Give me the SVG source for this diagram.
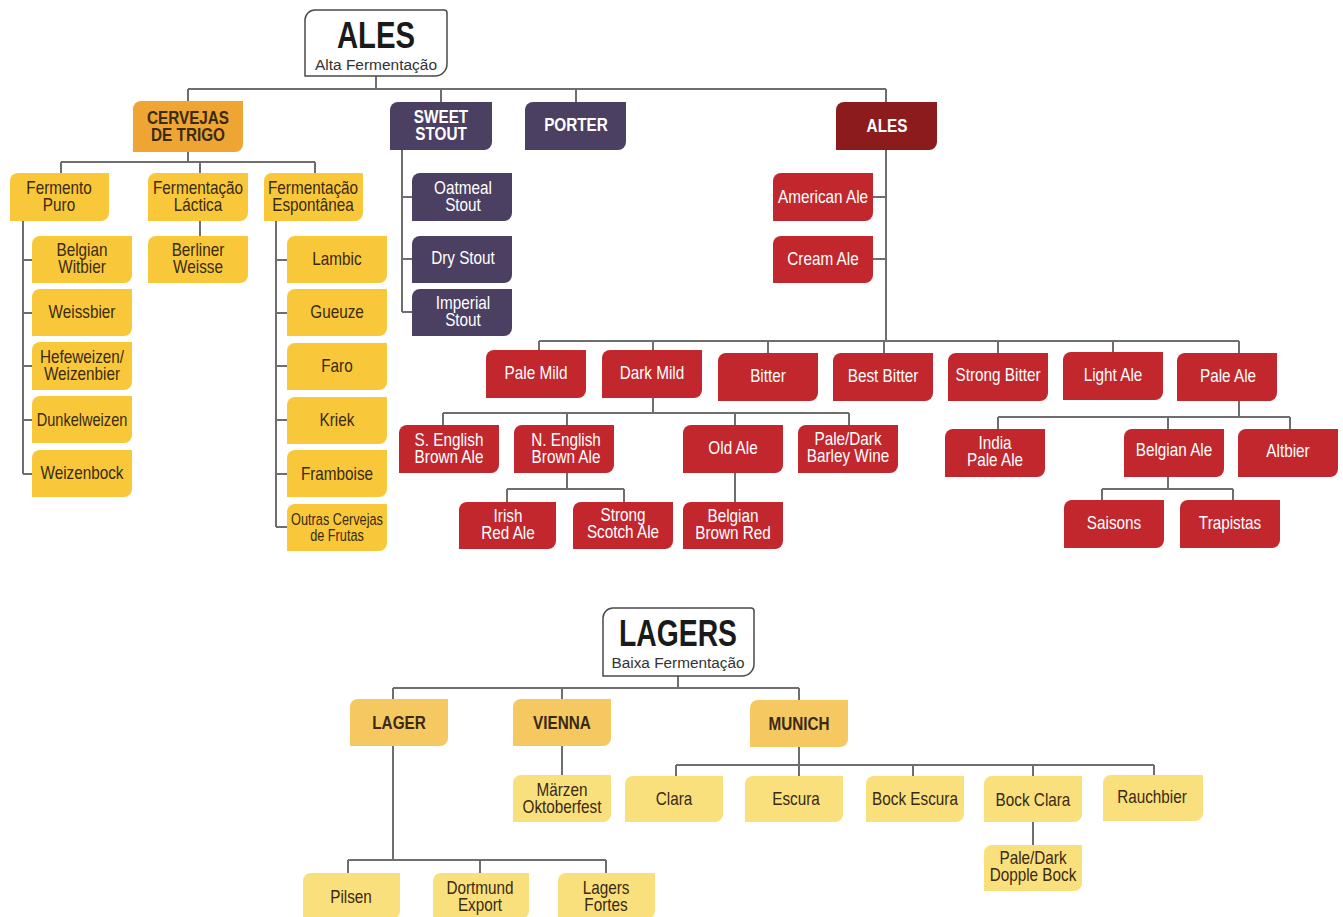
<svg xmlns="http://www.w3.org/2000/svg" width="1343" height="917" viewBox="0 0 1343 917">
<style>
.bg{fill:#fff}
.ln{stroke:#6e6e6e;stroke-width:2;fill:none}
.ttl{fill:#fff;stroke:#4a4a4a;stroke-width:1.5}
.y{fill:#F8C83A}.o{fill:#EFA534}.p{fill:#4B4062}.dr{fill:#8C1B1D}.r{fill:#C1272D}.lh{fill:#F6C862}.ll{fill:#F9E07C}
text{font-family:"Liberation Sans",Arial,sans-serif;text-anchor:middle}
.t{font-size:18px}
.b{font-size:18px;font-weight:bold}
.d{fill:#3a2a12}.w{fill:#fff}
.big{font-size:36px;font-weight:bold;fill:#1a1a1a}
.sub{font-size:15.5px;fill:#333}
.sm{font-size:16.5px}
</style>
<rect class="bg" x="0" y="0" width="1343" height="917"/>
<g id="connectors">
<path class="ln" d="M376,76V89M188,89H886M188,89V101M441,89V102M576,89V102M886,89V102"/>
<path class="ln" d="M188,152V162M61,162H315M61,162V173M200,162V173M315,162V173"/>
<path class="ln" d="M23,221V474M23,260H32M23,313H32M23,366H32M23,420H32M23,474H32"/>
<path class="ln" d="M200,221V236"/>
<path class="ln" d="M276,221V527M276,260H287M276,313H287M276,366H287M276,420H287M276,474H287M276,527H287"/>
<path class="ln" d="M402,150V312M402,197H412M402,259H412M402,312H412"/>
<path class="ln" d="M886,150V341M873,197H886M873,259H886"/>
<path class="ln" d="M539,341H1239M539,341V350M653,341V350M768,341V353M884,341V353M998,341V353M1113,341V352M1239,341V353"/>
<path class="ln" d="M653,398V413M443,413H849M443,413V425M567,413V425M735,413V425M849,413V425"/>
<path class="ln" d="M567,473V489M507,489H624M507,489V502M624,489V502M735,473V502"/>
<path class="ln" d="M1239,401V417M998,417H1290M998,417V429M1168,417V429M1290,417V429"/>
<path class="ln" d="M1168,477V489M1102,489H1233M1102,489V500M1233,489V500"/>
<path class="ln" d="M678,676V688M393,688H799M393,688V699M562,688V699M799,688V700"/>
<path class="ln" d="M562,746V775"/>
<path class="ln" d="M799,747V776M676,765H1154M676,765V776M913,765V776M1033,765V776M1154,765V775"/>
<path class="ln" d="M1033,822V845"/>
<path class="ln" d="M393,746V860M348,860H606M348,860V873M480,860V873M606,860V873"/>
</g>
<g id="ales-title"><path class="ttl" d="M315,10H444a3,3 0 0 1 3,3V64a12,12 0 0 1 -12,12H305V20a10,10 0 0 1 10,-10Z"/><text class="big" x="376" y="48" textLength="78" lengthAdjust="spacingAndGlyphs">ALES</text><text class="sub" x="376" y="70" textLength="122" lengthAdjust="spacingAndGlyphs">Alta Fermentação</text></g>
<g id="cervejas-de-trigo"><path class="o" d="M141,101H243V144a8,8 0 0 1 -8,8H133V109a8,8 0 0 1 8,-8Z"/><text class="b d" transform="matrix(.85 0 0 1 188 0)" y="124">CERVEJAS</text><text class="b d" transform="matrix(.85 0 0 1 188 0)" y="141">DE TRIGO</text></g>
<g id="sweet-stout"><path class="p" d="M398,102H492V142a8,8 0 0 1 -8,8H390V110a8,8 0 0 1 8,-8Z"/><text class="b w" transform="matrix(.85 0 0 1 441 0)" y="123">SWEET</text><text class="b w" transform="matrix(.85 0 0 1 441 0)" y="140">STOUT</text></g>
<g id="porter"><path class="p" d="M533,102H626V142a8,8 0 0 1 -8,8H525V110a8,8 0 0 1 8,-8Z"/><text class="b w" transform="matrix(.85 0 0 1 576 0)" y="131">PORTER</text></g>
<g id="ales-red"><path class="dr" d="M844,102H937V142a8,8 0 0 1 -8,8H836V110a8,8 0 0 1 8,-8Z"/><text class="b w" transform="matrix(.85 0 0 1 887 0)" y="132">ALES</text></g>
<g id="fermento-puro"><path class="y" d="M18,173H109V213a8,8 0 0 1 -8,8H10V181a8,8 0 0 1 8,-8Z"/><text class="t d" transform="matrix(.85 0 0 1 59 0)" y="194">Fermento</text><text class="t d" transform="matrix(.85 0 0 1 59 0)" y="211">Puro</text></g>
<g id="fermentacao-lactica"><path class="y" d="M156,173H248V213a8,8 0 0 1 -8,8H148V181a8,8 0 0 1 8,-8Z"/><text class="t d" transform="matrix(.85 0 0 1 198 0)" y="194">Fermentação</text><text class="t d" transform="matrix(.85 0 0 1 198 0)" y="211">Láctica</text></g>
<g id="fermentacao-espontanea"><path class="y" d="M272,173H363V213a8,8 0 0 1 -8,8H264V181a8,8 0 0 1 8,-8Z"/><text class="t d" transform="matrix(.85 0 0 1 313 0)" y="194">Fermentação</text><text class="t d" transform="matrix(.85 0 0 1 313 0)" y="211">Espontânea</text></g>
<g id="belgian-witbier"><path class="y" d="M40,236H132V275a8,8 0 0 1 -8,8H32V244a8,8 0 0 1 8,-8Z"/><text class="t d" transform="matrix(.85 0 0 1 82 0)" y="256">Belgian</text><text class="t d" transform="matrix(.85 0 0 1 82 0)" y="273">Witbier</text></g>
<g id="weissbier"><path class="y" d="M40,289H132V328a8,8 0 0 1 -8,8H32V297a8,8 0 0 1 8,-8Z"/><text class="t d" transform="matrix(.85 0 0 1 82 0)" y="318">Weissbier</text></g>
<g id="hefeweizen"><path class="y" d="M40,342H132V382a8,8 0 0 1 -8,8H32V350a8,8 0 0 1 8,-8Z"/><text class="t d" transform="matrix(.85 0 0 1 82 0)" y="363">Hefeweizen/</text><text class="t d" transform="matrix(.85 0 0 1 82 0)" y="380">Weizenbier</text></g>
<g id="dunkelweizen"><path class="y" d="M40,396H132V435a8,8 0 0 1 -8,8H32V404a8,8 0 0 1 8,-8Z"/><text class="t d" transform="matrix(.81 0 0 1 82 0)" y="426">Dunkelweizen</text></g>
<g id="weizenbock"><path class="y" d="M40,450H132V489a8,8 0 0 1 -8,8H32V458a8,8 0 0 1 8,-8Z"/><text class="t d" transform="matrix(.85 0 0 1 82 0)" y="479">Weizenbock</text></g>
<g id="berliner-weisse"><path class="y" d="M156,236H248V275a8,8 0 0 1 -8,8H148V244a8,8 0 0 1 8,-8Z"/><text class="t d" transform="matrix(.85 0 0 1 198 0)" y="256">Berliner</text><text class="t d" transform="matrix(.85 0 0 1 198 0)" y="273">Weisse</text></g>
<g id="lambic"><path class="y" d="M295,236H387V275a8,8 0 0 1 -8,8H287V244a8,8 0 0 1 8,-8Z"/><text class="t d" transform="matrix(.85 0 0 1 337 0)" y="265">Lambic</text></g>
<g id="gueuze"><path class="y" d="M295,289H387V328a8,8 0 0 1 -8,8H287V297a8,8 0 0 1 8,-8Z"/><text class="t d" transform="matrix(.85 0 0 1 337 0)" y="318">Gueuze</text></g>
<g id="faro"><path class="y" d="M295,343H387V382a8,8 0 0 1 -8,8H287V351a8,8 0 0 1 8,-8Z"/><text class="t d" transform="matrix(.85 0 0 1 337 0)" y="372">Faro</text></g>
<g id="kriek"><path class="y" d="M295,397H387V436a8,8 0 0 1 -8,8H287V405a8,8 0 0 1 8,-8Z"/><text class="t d" transform="matrix(.85 0 0 1 337 0)" y="426">Kriek</text></g>
<g id="framboise"><path class="y" d="M295,450H387V489a8,8 0 0 1 -8,8H287V458a8,8 0 0 1 8,-8Z"/><text class="t d" transform="matrix(.85 0 0 1 337 0)" y="480">Framboise</text></g>
<g id="outras-cervejas"><path class="y" d="M295,504H387V543a8,8 0 0 1 -8,8H287V512a8,8 0 0 1 8,-8Z"/><text class="sm d" transform="matrix(.77 0 0 1 337 0)" y="525">Outras Cervejas</text><text class="sm d" transform="matrix(.77 0 0 1 337 0)" y="541">de Frutas</text></g>
<g id="oatmeal-stout"><path class="p" d="M420,173H512V213a8,8 0 0 1 -8,8H412V181a8,8 0 0 1 8,-8Z"/><text class="t w" transform="matrix(.85 0 0 1 463 0)" y="194">Oatmeal</text><text class="t w" transform="matrix(.85 0 0 1 463 0)" y="211">Stout</text></g>
<g id="dry-stout"><path class="p" d="M420,236H512V275a8,8 0 0 1 -8,8H412V244a8,8 0 0 1 8,-8Z"/><text class="t w" transform="matrix(.85 0 0 1 463 0)" y="264">Dry Stout</text></g>
<g id="imperial-stout"><path class="p" d="M420,289H512V328a8,8 0 0 1 -8,8H412V297a8,8 0 0 1 8,-8Z"/><text class="t w" transform="matrix(.85 0 0 1 463 0)" y="309">Imperial</text><text class="t w" transform="matrix(.85 0 0 1 463 0)" y="326">Stout</text></g>
<g id="american-ale"><path class="r" d="M781,173H873V213a8,8 0 0 1 -8,8H773V181a8,8 0 0 1 8,-8Z"/><text class="t w" transform="matrix(.85 0 0 1 823 0)" y="203">American Ale</text></g>
<g id="cream-ale"><path class="r" d="M781,236H873V275a8,8 0 0 1 -8,8H773V244a8,8 0 0 1 8,-8Z"/><text class="t w" transform="matrix(.85 0 0 1 823 0)" y="265">Cream Ale</text></g>
<g id="pale-mild"><path class="r" d="M494,350H586V390a8,8 0 0 1 -8,8H486V358a8,8 0 0 1 8,-8Z"/><text class="t w" transform="matrix(.85 0 0 1 536 0)" y="379">Pale Mild</text></g>
<g id="dark-mild"><path class="r" d="M610,350H702V390a8,8 0 0 1 -8,8H602V358a8,8 0 0 1 8,-8Z"/><text class="t w" transform="matrix(.85 0 0 1 652 0)" y="379">Dark Mild</text></g>
<g id="bitter"><path class="r" d="M726,353H818V393a8,8 0 0 1 -8,8H718V361a8,8 0 0 1 8,-8Z"/><text class="t w" transform="matrix(.85 0 0 1 768 0)" y="382">Bitter</text></g>
<g id="best-bitter"><path class="r" d="M841,353H933V393a8,8 0 0 1 -8,8H833V361a8,8 0 0 1 8,-8Z"/><text class="t w" transform="matrix(.85 0 0 1 883 0)" y="382">Best Bitter</text></g>
<g id="strong-bitter"><path class="r" d="M956,353H1048V393a8,8 0 0 1 -8,8H948V361a8,8 0 0 1 8,-8Z"/><text class="t w" transform="matrix(.85 0 0 1 998 0)" y="381">Strong Bitter</text></g>
<g id="light-ale"><path class="r" d="M1071,352H1163V392a8,8 0 0 1 -8,8H1063V360a8,8 0 0 1 8,-8Z"/><text class="t w" transform="matrix(.85 0 0 1 1113 0)" y="381">Light Ale</text></g>
<g id="pale-ale"><path class="r" d="M1185,353H1277V393a8,8 0 0 1 -8,8H1177V361a8,8 0 0 1 8,-8Z"/><text class="t w" transform="matrix(.85 0 0 1 1228 0)" y="382">Pale Ale</text></g>
<g id="s-english-brown-ale"><path class="r" d="M407,425H499V465a8,8 0 0 1 -8,8H399V433a8,8 0 0 1 8,-8Z"/><text class="t w" transform="matrix(.85 0 0 1 449 0)" y="446">S. English</text><text class="t w" transform="matrix(.85 0 0 1 449 0)" y="463">Brown Ale</text></g>
<g id="n-english-brown-ale"><path class="r" d="M522,425H614V465a8,8 0 0 1 -8,8H514V433a8,8 0 0 1 8,-8Z"/><text class="t w" transform="matrix(.85 0 0 1 566 0)" y="446">N. English</text><text class="t w" transform="matrix(.85 0 0 1 566 0)" y="463">Brown Ale</text></g>
<g id="old-ale"><path class="r" d="M691,425H783V465a8,8 0 0 1 -8,8H683V433a8,8 0 0 1 8,-8Z"/><text class="t w" transform="matrix(.85 0 0 1 733 0)" y="454">Old Ale</text></g>
<g id="barley-wine"><path class="r" d="M806,425H898V465a8,8 0 0 1 -8,8H798V433a8,8 0 0 1 8,-8Z"/><text class="t w" transform="matrix(.85 0 0 1 848 0)" y="445">Pale/Dark</text><text class="t w" transform="matrix(.85 0 0 1 848 0)" y="462">Barley Wine</text></g>
<g id="irish-red-ale"><path class="r" d="M467,502H556V541a8,8 0 0 1 -8,8H459V510a8,8 0 0 1 8,-8Z"/><text class="t w" transform="matrix(.85 0 0 1 508 0)" y="522">Irish</text><text class="t w" transform="matrix(.85 0 0 1 508 0)" y="539">Red Ale</text></g>
<g id="strong-scotch-ale"><path class="r" d="M581,502H673V541a8,8 0 0 1 -8,8H573V510a8,8 0 0 1 8,-8Z"/><text class="t w" transform="matrix(.85 0 0 1 623 0)" y="521">Strong</text><text class="t w" transform="matrix(.85 0 0 1 623 0)" y="538">Scotch Ale</text></g>
<g id="belgian-brown-red"><path class="r" d="M691,502H783V541a8,8 0 0 1 -8,8H683V510a8,8 0 0 1 8,-8Z"/><text class="t w" transform="matrix(.85 0 0 1 733 0)" y="522">Belgian</text><text class="t w" transform="matrix(.85 0 0 1 733 0)" y="539">Brown Red</text></g>
<g id="india-pale-ale"><path class="r" d="M953,429H1045V469a8,8 0 0 1 -8,8H945V437a8,8 0 0 1 8,-8Z"/><text class="t w" transform="matrix(.85 0 0 1 995 0)" y="449">India</text><text class="t w" transform="matrix(.85 0 0 1 995 0)" y="466">Pale Ale</text></g>
<g id="belgian-ale"><path class="r" d="M1132,429H1224V469a8,8 0 0 1 -8,8H1124V437a8,8 0 0 1 8,-8Z"/><text class="t w" transform="matrix(.85 0 0 1 1174 0)" y="456">Belgian Ale</text></g>
<g id="altbier"><path class="r" d="M1246,429H1338V469a8,8 0 0 1 -8,8H1238V437a8,8 0 0 1 8,-8Z"/><text class="t w" transform="matrix(.85 0 0 1 1288 0)" y="457">Altbier</text></g>
<g id="saisons"><path class="r" d="M1072,500H1164V540a8,8 0 0 1 -8,8H1064V508a8,8 0 0 1 8,-8Z"/><text class="t w" transform="matrix(.85 0 0 1 1114 0)" y="529">Saisons</text></g>
<g id="trapistas"><path class="r" d="M1188,500H1280V540a8,8 0 0 1 -8,8H1180V508a8,8 0 0 1 8,-8Z"/><text class="t w" transform="matrix(.85 0 0 1 1230 0)" y="529">Trapistas</text></g>
<g id="lagers-title"><path class="ttl" d="M613,608H751a3,3 0 0 1 3,3V664a12,12 0 0 1 -12,12H603V618a10,10 0 0 1 10,-10Z"/><text class="big" x="678" y="646" textLength="118" lengthAdjust="spacingAndGlyphs">LAGERS</text><text class="sub" x="678" y="668" textLength="133" lengthAdjust="spacingAndGlyphs">Baixa Fermentação</text></g>
<g id="lager"><path class="lh" d="M358,699H448V738a8,8 0 0 1 -8,8H350V707a8,8 0 0 1 8,-8Z"/><text class="b d" transform="matrix(.85 0 0 1 399 0)" y="729">LAGER</text></g>
<g id="vienna"><path class="lh" d="M521,699H611V738a8,8 0 0 1 -8,8H513V707a8,8 0 0 1 8,-8Z"/><text class="b d" transform="matrix(.85 0 0 1 562 0)" y="729">VIENNA</text></g>
<g id="munich"><path class="lh" d="M758,700H848V739a8,8 0 0 1 -8,8H750V708a8,8 0 0 1 8,-8Z"/><text class="b d" transform="matrix(.85 0 0 1 799 0)" y="730">MUNICH</text></g>
<g id="marzen"><path class="ll" d="M521,775H611V814a8,8 0 0 1 -8,8H513V783a8,8 0 0 1 8,-8Z"/><text class="t d" transform="matrix(.85 0 0 1 562 0)" y="796">Märzen</text><text class="t d" transform="matrix(.85 0 0 1 562 0)" y="813">Oktoberfest</text></g>
<g id="clara"><path class="ll" d="M633,776H723V814a8,8 0 0 1 -8,8H625V784a8,8 0 0 1 8,-8Z"/><text class="t d" transform="matrix(.85 0 0 1 674 0)" y="805">Clara</text></g>
<g id="escura"><path class="ll" d="M753,776H843V814a8,8 0 0 1 -8,8H745V784a8,8 0 0 1 8,-8Z"/><text class="t d" transform="matrix(.85 0 0 1 796 0)" y="805">Escura</text></g>
<g id="bock-escura"><path class="ll" d="M874,776H964V814a8,8 0 0 1 -8,8H866V784a8,8 0 0 1 8,-8Z"/><text class="t d" transform="matrix(.85 0 0 1 915 0)" y="805">Bock Escura</text></g>
<g id="bock-clara"><path class="ll" d="M992,776H1082V814a8,8 0 0 1 -8,8H984V784a8,8 0 0 1 8,-8Z"/><text class="t d" transform="matrix(.85 0 0 1 1033 0)" y="806">Bock Clara</text></g>
<g id="rauchbier"><path class="ll" d="M1111,775H1203V813a8,8 0 0 1 -8,8H1103V783a8,8 0 0 1 8,-8Z"/><text class="t d" transform="matrix(.85 0 0 1 1152 0)" y="803">Rauchbier</text></g>
<g id="dopple-bock"><path class="ll" d="M992,845H1082V883a8,8 0 0 1 -8,8H984V853a8,8 0 0 1 8,-8Z"/><text class="t d" transform="matrix(.85 0 0 1 1033 0)" y="864">Pale/Dark</text><text class="t d" transform="matrix(.85 0 0 1 1033 0)" y="881">Dopple Bock</text></g>
<g id="pilsen"><path class="ll" d="M311,873H400V911a8,8 0 0 1 -8,8H303V881a8,8 0 0 1 8,-8Z"/><text class="t d" transform="matrix(.85 0 0 1 351 0)" y="903">Pilsen</text></g>
<g id="dortmund-export"><path class="ll" d="M441,873H529V911a8,8 0 0 1 -8,8H433V881a8,8 0 0 1 8,-8Z"/><text class="t d" transform="matrix(.85 0 0 1 480 0)" y="894">Dortmund</text><text class="t d" transform="matrix(.85 0 0 1 480 0)" y="911">Export</text></g>
<g id="lagers-fortes"><path class="ll" d="M566,873H655V911a8,8 0 0 1 -8,8H558V881a8,8 0 0 1 8,-8Z"/><text class="t d" transform="matrix(.85 0 0 1 606 0)" y="894">Lagers</text><text class="t d" transform="matrix(.85 0 0 1 606 0)" y="911">Fortes</text></g>
</svg>
